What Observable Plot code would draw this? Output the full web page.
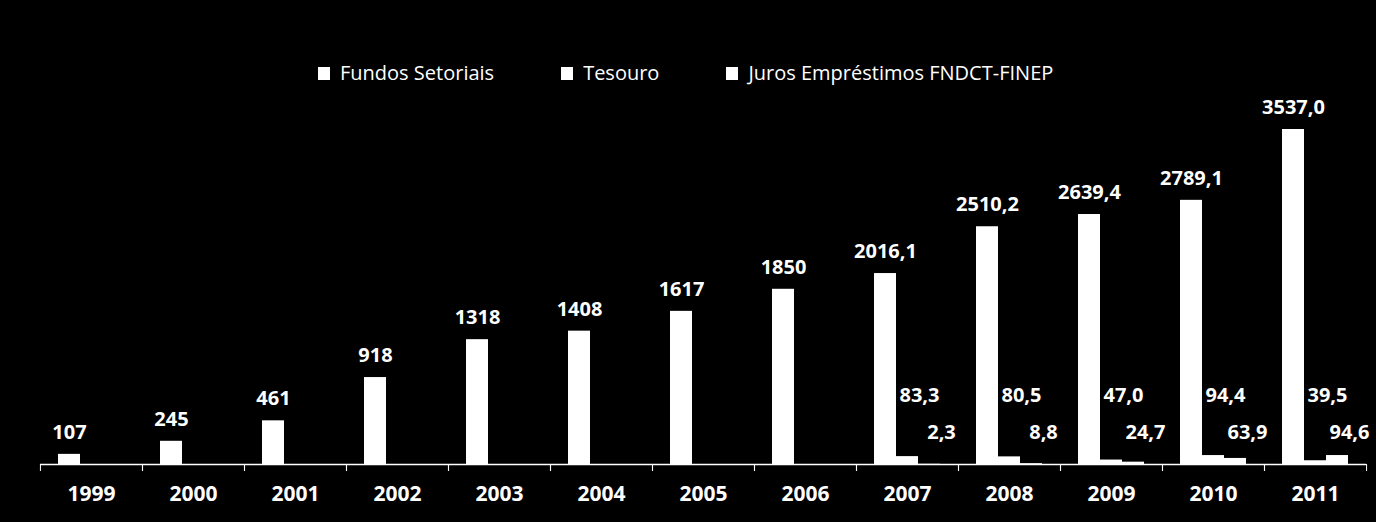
<!DOCTYPE html>
<html><head><meta charset="utf-8">
<script src="https://cdn.jsdelivr.net/npm/d3@7"></script>
<script src="https://cdn.jsdelivr.net/npm/@observablehq/plot@0.6"></script>
<style>
html,body{margin:0;padding:0;background:#000;width:1376px;height:522px;overflow:hidden;}
#legend{position:relative;height:96px;font-family:"Open Sans",sans-serif;font-size:20px;color:#fff;}
#legend .items{position:absolute;left:318px;top:60px;display:flex;gap:67px;line-height:26px;white-space:nowrap;}
.item{display:flex;align-items:center;}
.sw{width:12px;height:13px;background:#fff;margin-right:10px;}
#chart svg{display:block;overflow:visible;}
</style></head><body>
<div id="legend"><div class="items"></div></div>
<div id="chart"></div>
<script>
const years = ["1999","2000","2001","2002","2003","2004","2005","2006","2007","2008","2009","2010","2011"];
const series = ["Fundos Setoriais","Tesouro","Juros Empréstimos FNDCT-FINEP"];
const fundos = [107, 245, 461, 918, 1318, 1408, 1617, 1850, 2016.1, 2510.2, 2639.4, 2789.1, 3537.0];
const extraYears = ["2007","2008","2009","2010","2011"];
const tesouro = [83.3, 80.5, 47.0, 94.4, 39.5];
const juros = [2.3, 8.8, 24.7, 63.9, 94.6];

const fmt = (v, dec) => dec ? v.toFixed(1).replace(".", ",") : String(Math.round(v));

const fundosRows = years.map((y, i) => ({year: y, series: series[0], value: fundos[i], label: fmt(fundos[i], +y >= 2007)}));
const tesRows = extraYears.map((y, i) => ({year: y, series: series[1], value: tesouro[i], label: fmt(tesouro[i], true)}));
const jurRows = extraYears.map((y, i) => ({year: y, series: series[2], value: juros[i], label: fmt(juros[i], true)}));
const rows = [...fundosRows, ...tesRows, ...jurRows];

// legend
const items = document.querySelector("#legend .items");
for (const s of series) {
  const d = document.createElement("div");
  d.className = "item";
  d.innerHTML = `<span class="sw"></span><span></span>`;
  d.lastChild.textContent = s;
  items.appendChild(d);
}

const W = 1376, ML = 39, MR = 9;
const bw = (W - ML - MR) / years.length;
const labelStyle = {fontSize: 20, fontWeight: "bold", fill: "#fff"};

const chart = Plot.plot({
  width: W, height: 426,
  marginLeft: ML, marginRight: MR, marginTop: 33, marginBottom: 58,
  style: {background: "#000", color: "#fff", fontFamily: "'Open Sans', sans-serif", overflow: "visible"},
  fx: {domain: years, padding: 0, label: null},
  x: {domain: series, paddingInner: 0, paddingOuter: 0.72, axis: null},
  y: {domain: [0, 3537], axis: null},
  marks: [
    Plot.barY(rows, {fx: "year", x: "series", y: "value", fill: "#fff"}),
    Plot.ruleY([0], {stroke: "#fff", strokeWidth: 1.5}),
    Plot.text(fundosRows, {fx: "year", x: "series", y: "value", text: "label", dy: -22, ...labelStyle}),
    Plot.text(tesRows, {fx: "year", x: "series", text: "label", frameAnchor: "bottom", dy: -63, dx: 12, ...labelStyle}),
    Plot.text(jurRows, {fx: "year", x: "series", text: "label", frameAnchor: "bottom", dy: -26, dx: 12, ...labelStyle}),
    Plot.axisFx({anchor: "bottom", tickSize: 0, tickPadding: 22, fontSize: 21, fontWeight: "bold", label: null, fill: "#fff"}),
    Plot.axisFx({anchor: "bottom", tickSize: 7, tickFormat: () => "", dx: -bw / 2, label: null, stroke: "#fff"}),
    Plot.axisFx([years[years.length - 1]], {anchor: "bottom", tickSize: 7, tickFormat: () => "", dx: bw / 2, label: null, stroke: "#fff"})
  ]
});
document.getElementById("chart").appendChild(chart);
</script>
</body></html>
